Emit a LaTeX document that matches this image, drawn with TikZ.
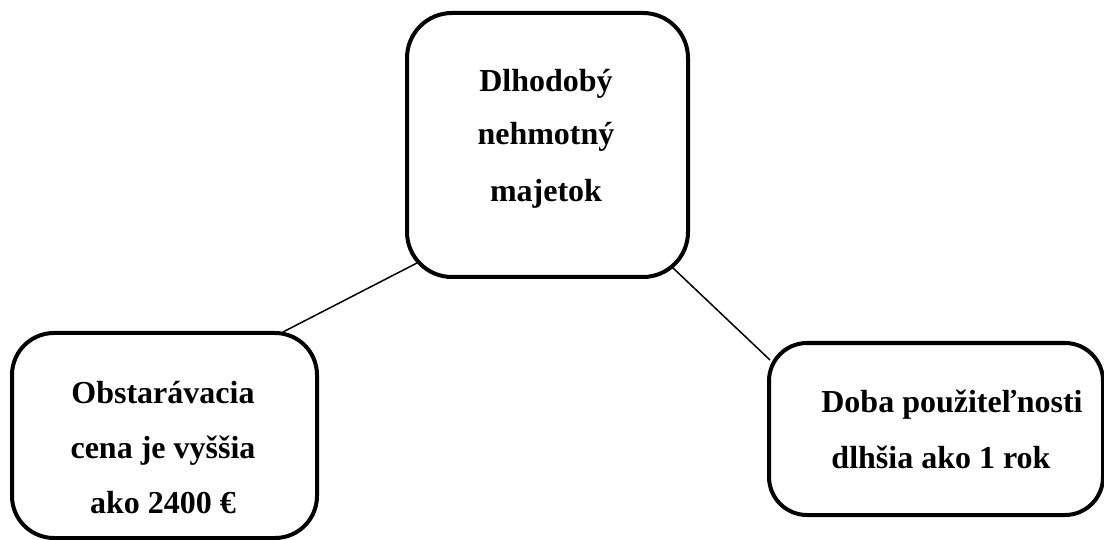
\documentclass[tikz,border=0pt]{standalone}
\usepackage{fontspec}
\setmainfont{Liberation Serif}
\begin{document}
\begin{tikzpicture}[x=1pt,y=-1pt,
  box/.style={draw=black,line width=4pt,rounded corners=#1,fill=none,outer sep=0pt,inner sep=0pt},
  txt/.style={anchor=base,inner sep=0pt,font=\fontsize{32}{38}\selectfont\bfseries},
  conn/.style={draw=black,line width=1.5pt}]
\useasboundingbox (0,0) rectangle (1104,540);
% boxes
\node[box=45pt,minimum width=281pt,minimum height=264pt] (top) at (547.5,145) {};
\node[box=42pt,minimum width=305pt,minimum height=205pt] (left) at (164.5,435.5) {};
\node[box=38pt,minimum width=334pt,minimum height=172pt] (right) at (936,429) {};
% texts
\node[txt] (t1) at (546,92) {Dlhodobý};
\node[txt] (t2) at (546,145) {nehmotný};
\node[txt] (t3) at (546,202) {majetok};
\node[txt] (t4) at (163,403) {Obstarávacia};
\node[txt] (t5) at (163,458) {cena je vyššia};
\node[txt] (t6) at (163,513) {ako 2400 €};
\node[txt] (t7) at (952,412) {Doba použiteľnosti};
\node[txt] (t8) at (941,468) {dlhšia ako 1 rok};
% connectors
\draw[conn] ([shift={(10,-14)}]top.south west) -- ([shift={(-34,-1)}]left.north east);
\draw[conn] ([shift={(-15,-9)}]top.south east) -- ([shift={(1,17)}]right.north west);
\end{tikzpicture}
\end{document}
